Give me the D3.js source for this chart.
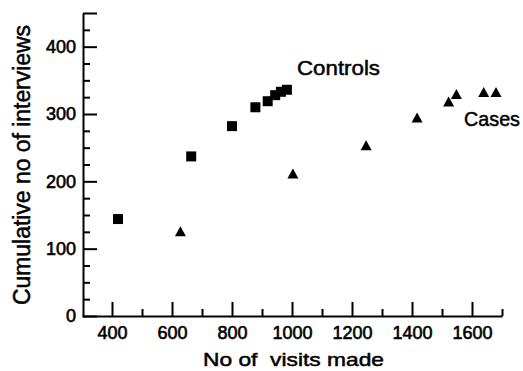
<!DOCTYPE html>
<html>
<head>
<meta charset="utf-8">
<script src="https://cdn.jsdelivr.net/npm/d3@7"></script>
<style>
  body { margin: 0; background: #fff; }
  svg { display: block; font-family: "Liberation Sans", Arial, sans-serif; }
  .axis path, .axis line { stroke: #000; stroke-width: 2; }
  .axis text { font-size: 18px; fill: #000; stroke: #000; stroke-width: 0.6; }
  .label { fill: #000; stroke: #000; stroke-width: 0.5; }
</style>
</head>
<body>
<svg id="chart" width="523" height="371"></svg>
<script>
// values
const controlsVisits = [420, 664, 800, 878, 919, 944, 963, 983];
const controlsInterviews = [144, 237, 282, 310, 319, 328, 333, 336];
const casesVisits = [628, 1003, 1247, 1417, 1522, 1548, 1639, 1680];
const casesInterviews = [125, 211, 253, 294, 318, 329, 332, 332];

const xTicks = [400, 600, 800, 1000, 1200, 1400, 1600];
const xMinor = [500, 700, 900, 1100, 1300, 1500, 1700];
const yTicks = [0, 100, 200, 300, 400, 450];
const yMinor = [25, 50, 75, 125, 150, 175, 225, 250, 275, 325, 350, 375, 425];

const svg = d3.select("#chart");

const x = d3.scaleLinear().domain([300, 1700]).range([82, 502]);
const y = d3.scaleLinear().domain([0, 450]).range([316, 13]);

// minor ticks first, then the main axes on top
svg.append("g")
    .attr("class", "axis")
    .attr("transform", "translate(0,316)")
    .call(d3.axisBottom(x).tickValues(xMinor).tickSize(-7).tickSizeOuter(0).tickFormat(""))
    .select(".domain").remove();

svg.append("g")
    .attr("class", "axis")
    .attr("transform", "translate(83,0)")
    .call(d3.axisLeft(y).tickValues(yMinor).tickSize(-7).tickSizeOuter(0).tickFormat(""))
    .select(".domain").remove();

svg.append("g")
    .attr("class", "axis")
    .attr("transform", "translate(0,316)")
    .call(d3.axisBottom(x).tickValues(xTicks).tickSize(-14).tickSizeOuter(0).tickPadding(10)
        .tickFormat(d3.format("d")));

svg.append("g")
    .attr("class", "axis")
    .attr("transform", "translate(83,0)")
    .call(d3.axisLeft(y).tickValues(yTicks).tickSize(-14).tickSizeOuter(0).tickPadding(7)
        .tickFormat(d => d === 450 ? "" : d));

// controls: squares
const controls = controlsVisits.map((v, i) => [v, controlsInterviews[i]]);
svg.append("g")
    .selectAll("rect")
    .data(controls)
    .join("rect")
    .attr("x", d => x(d[0]) - 5)
    .attr("y", d => y(d[1]) - 5)
    .attr("width", 10)
    .attr("height", 10)
    .attr("fill", "#000");

// cases: triangles
const cases = casesVisits.map((v, i) => [v, casesInterviews[i]]);
svg.append("g")
    .selectAll("path")
    .data(cases)
    .join("path")
    .attr("d", d => {
        const cx = x(d[0]), cy = y(d[1]);
        return `M${cx},${cy - 5.5}L${cx + 5.5},${cy + 4.5}L${cx - 5.5},${cy + 4.5}Z`;
    })
    .attr("fill", "#000");

// series labels
svg.append("text")
    .attr("class", "label")
    .attr("x", 297).attr("y", 75)
    .attr("font-size", 21)
    .attr("textLength", 83).attr("lengthAdjust", "spacingAndGlyphs")
    .text("Controls");

svg.append("text")
    .attr("class", "label")
    .attr("x", 464).attr("y", 126)
    .attr("font-size", 21)
    .attr("textLength", 56).attr("lengthAdjust", "spacingAndGlyphs")
    .text("Cases");

// axis titles
svg.append("text")
    .attr("class", "label")
    .attr("x", 203).attr("y", 366)
    .attr("font-size", 19)
    .attr("xml:space", "preserve")
    .style("white-space", "pre")
    .attr("textLength", 181).attr("lengthAdjust", "spacingAndGlyphs")
    .text("No of  visits made");

svg.append("text")
    .attr("class", "label")
    .attr("transform", "translate(30,165) rotate(-90)")
    .attr("text-anchor", "middle")
    .attr("font-size", 23)
    .attr("textLength", 280).attr("lengthAdjust", "spacingAndGlyphs")
    .text("Cumulative no of interviews");
</script>
</body>
</html>
